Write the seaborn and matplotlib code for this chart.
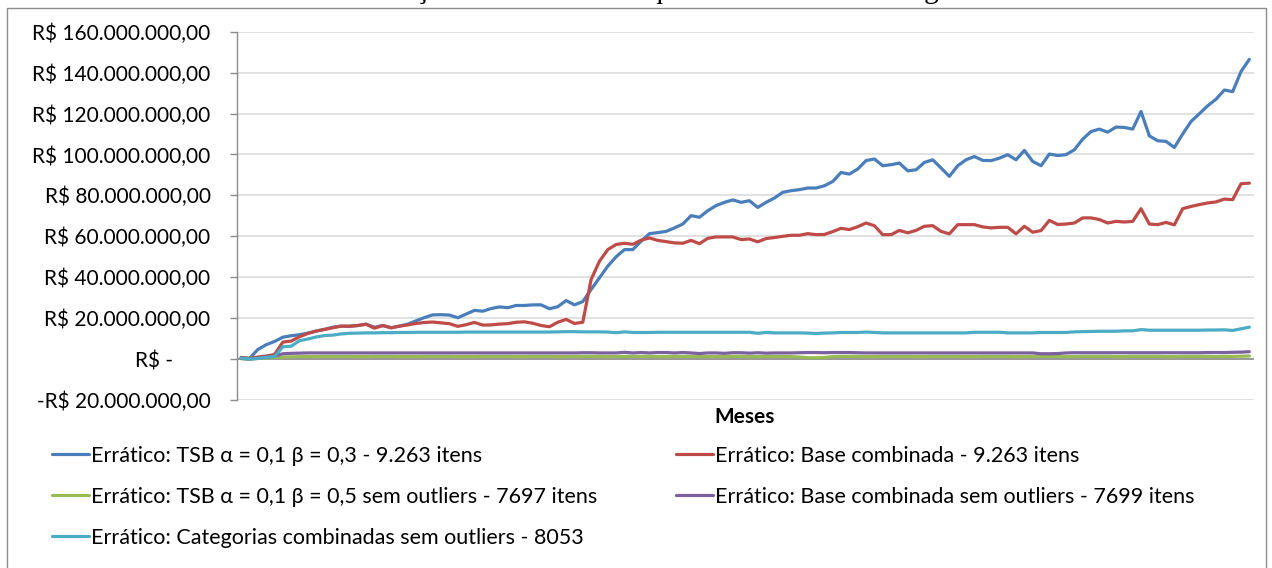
import numpy as np
import pandas as pd
import matplotlib
matplotlib.use("Agg")
import matplotlib.pyplot as plt
from matplotlib.lines import Line2D
from matplotlib.patches import Rectangle
from matplotlib.ticker import FixedLocator, FuncFormatter
import seaborn as sns

# ---- data (values in millions of R$) ----
tsb_03 = [
    0.8, 0.3, 4.7, 7.0, 8.6, 10.7, 11.4, 11.9, 12.7, 13.7,
    14.5, 15.6, 16.1, 16.1, 16.4, 17.1, 15.5, 16.4, 15.3, 16.1,
    17.1, 18.7, 20.3, 21.6, 21.7, 21.5, 20.2, 22.0, 23.8, 23.4,
    24.7, 25.5, 25.1, 26.2, 26.2, 26.5, 26.5, 24.6, 25.6, 28.6,
    26.5, 28.1, 34.0, 39.7, 45.4, 50.0, 53.5, 53.5, 57.6, 61.3,
    61.8, 62.4, 64.1, 66.0, 70.1, 69.3, 72.5, 75.0, 76.6, 77.8,
    76.6, 77.4, 74.1, 76.6, 78.7, 81.5, 82.3, 82.8, 83.6, 83.6,
    84.7, 86.8, 91.2, 90.4, 92.9, 97.0, 97.8, 94.5, 95.0, 95.8,
    92.0, 92.5, 96.1, 97.4, 93.4, 89.3, 94.5, 97.4, 99.0, 97.1,
    97.0, 98.2, 99.9, 97.4, 102.0, 96.6, 94.5, 100.2, 99.5, 99.9,
    102.3, 107.5, 111.2, 112.4, 110.9, 113.4, 113.2, 112.4, 121.0, 109.1,
    106.7, 106.4, 103.4, 110.0, 116.1, 119.9, 123.8, 127.0, 131.5, 130.7,
    140.5, 146.5,
]
base_comb = [
    0.8, 0.3, 1.0, 1.5, 2.2, 8.3, 8.8, 10.9, 12.5, 13.7,
    14.5, 15.3, 16.1, 16.0, 16.4, 17.0, 15.1, 16.4, 15.3, 16.1,
    16.7, 17.4, 17.9, 18.1, 17.7, 17.3, 16.0, 16.8, 17.9, 16.6,
    16.7, 17.1, 17.3, 18.0, 18.2, 17.5, 16.4, 15.8, 18.0, 19.4,
    17.4, 18.0, 38.9, 47.8, 53.5, 56.0, 56.6, 56.1, 58.1, 59.2,
    58.0, 57.4, 56.8, 56.6, 58.0, 56.4, 59.0, 59.7, 59.7, 59.7,
    58.4, 58.7, 57.3, 58.9, 59.4, 60.0, 60.5, 60.5, 61.3, 60.8,
    60.9, 62.3, 63.9, 63.3, 64.7, 66.5, 65.2, 60.8, 60.8, 62.9,
    61.7, 62.9, 64.9, 65.2, 62.4, 61.2, 65.7, 65.7, 65.7, 64.6,
    64.1, 64.4, 64.4, 61.2, 64.9, 62.0, 62.8, 67.8, 65.8, 66.0,
    66.5, 69.0, 69.0, 68.2, 66.5, 67.3, 67.0, 67.3, 73.5, 66.0,
    65.7, 66.8, 65.6, 73.5, 74.6, 75.5, 76.3, 76.8, 78.2, 77.9,
    85.7, 86.0,
]
tsb_05_sem = [
    0.2, 0.0, 0.3, 0.5, 0.7, 1.0, 1.1, 1.2, 1.2, 1.2,
    1.3, 1.3, 1.3, 1.3, 1.2, 1.2, 1.3, 1.3, 1.3, 1.2,
    1.2, 1.2, 1.3, 1.3, 1.3, 1.3, 1.2, 1.2, 1.2, 1.3,
    1.3, 1.3, 1.3, 1.2, 1.2, 1.3, 1.3, 1.3, 1.2, 1.2,
    1.3, 1.3, 1.3, 1.3, 1.2, 1.2, 1.3, 1.3, 1.3, 1.3,
    1.2, 1.2, 1.3, 1.3, 1.3, 1.3, 1.2, 1.2, 1.3, 1.3,
    1.3, 1.2, 1.2, 1.3, 1.3, 1.3, 1.2, 1.0, 0.7, 0.6,
    0.8, 1.2, 1.3, 1.3, 1.3, 1.2, 1.2, 1.3, 1.3, 1.3,
    1.3, 1.2, 1.2, 1.3, 1.3, 1.3, 1.3, 1.2, 1.2, 1.3,
    1.3, 1.3, 1.3, 1.2, 1.2, 1.3, 1.3, 1.3, 1.3, 1.2,
    1.2, 1.3, 1.3, 1.3, 1.3, 1.2, 1.2, 1.3, 1.3, 1.3,
    1.3, 1.2, 1.2, 1.3, 1.3, 1.3, 1.3, 1.2, 1.3, 1.3,
    1.4, 1.5,
]
base_comb_sem = [
    0.3, 0.0, 0.5, 1.0, 1.5, 2.6, 2.8, 2.9, 3.0, 3.0,
    3.0, 3.0, 3.0, 3.0, 3.0, 3.0, 3.0, 3.0, 3.0, 3.0,
    3.0, 3.0, 3.0, 3.0, 3.0, 3.0, 3.0, 3.0, 3.0, 3.0,
    3.0, 3.0, 3.0, 3.0, 3.0, 3.0, 3.0, 3.0, 3.0, 3.0,
    3.0, 3.1, 3.1, 3.0, 3.0, 3.0, 3.3, 3.0, 3.2, 3.0,
    3.2, 3.2, 3.0, 3.2, 3.0, 2.7, 3.0, 3.0, 2.8, 3.1,
    3.1, 2.9, 3.1, 2.9, 3.0, 3.0, 3.0, 3.1, 3.2, 3.2,
    3.1, 3.2, 3.2, 3.2, 3.1, 3.0, 3.0, 3.0, 3.0, 3.0,
    3.0, 3.0, 3.0, 3.0, 3.0, 3.0, 3.0, 3.0, 3.0, 3.0,
    3.0, 3.0, 3.0, 3.0, 3.0, 3.0, 2.6, 2.6, 2.7, 3.0,
    3.1, 3.1, 3.1, 3.1, 3.1, 3.1, 3.1, 3.1, 3.1, 3.1,
    3.1, 3.1, 3.1, 3.1, 3.1, 3.1, 3.2, 3.2, 3.2, 3.3,
    3.4, 3.6,
]
cat_comb_sem = [
    0.5, 0.0, 0.3, 0.8, 1.2, 6.0, 6.3, 9.0, 9.8, 10.8,
    11.5, 11.7, 12.3, 12.6, 12.7, 12.8, 12.8, 12.9, 12.9, 13.0,
    13.0, 13.1, 13.1, 13.1, 13.1, 13.1, 13.1, 13.2, 13.2, 13.2,
    13.2, 13.2, 13.2, 13.2, 13.2, 13.2, 13.2, 13.2, 13.3, 13.4,
    13.4, 13.3, 13.3, 13.3, 13.2, 12.9, 13.3, 13.0, 13.0, 13.0,
    13.1, 13.1, 13.1, 13.1, 13.1, 13.1, 13.1, 13.1, 13.1, 13.1,
    13.1, 13.1, 12.6, 13.0, 12.8, 12.8, 12.8, 12.8, 12.7, 12.5,
    12.7, 12.8, 13.0, 13.0, 13.0, 13.2, 13.0, 12.8, 12.8, 12.8,
    12.8, 12.8, 12.8, 12.8, 12.8, 12.8, 12.8, 12.8, 13.1, 13.1,
    13.1, 13.1, 12.8, 12.8, 12.8, 12.8, 13.0, 13.0, 13.0, 13.0,
    13.3, 13.4, 13.5, 13.6, 13.6, 13.6, 13.8, 13.8, 14.4, 14.1,
    14.1, 14.1, 14.1, 14.1, 14.1, 14.1, 14.2, 14.2, 14.3, 14.0,
    14.8, 15.6,
]

series_labels = [
    "Errático: TSB α = 0,1 β = 0,3 - 9.263 itens",
    "Errático: Base combinada - 9.263 itens",
    "Errático: TSB α = 0,1 β = 0,5 sem outliers - 7697 itens",
    "Errático: Base combinada sem outliers - 7699 itens",
    "Errático: Categorias combinadas sem outliers - 8053",
]
series_values = [tsb_03, base_comb, tsb_05_sem, base_comb_sem, cat_comb_sem]
series_colors = ["#4A7EBB", "#BE4B48", "#98B954", "#7D60A0", "#4BACC6"]

y_ticks = [-20, 0, 20, 40, 60, 80, 100, 120, 140, 160]
title_text = "Gráfico 16 – Evolução do valor de estoque com o total da Categoria Errático"

months = np.arange(len(tsb_03))

# ---- style ----
sns.set_theme(style="white")
plt.rcParams["font.family"] = ["Lato", "DejaVu Sans"]
FS = 15
FS_LEG = 15.5

W, H = 1272, 568
fig = plt.figure(figsize=(W / 100, H / 100), dpi=100)
fig.patch.set_facecolor("white")

# chart frame and the caption line running above it
fig.patches.append(Rectangle((7 / W, -0.05), (1266 - 7) / W, 1.05 - 8.5 / H,
                             transform=fig.transFigure, fill=False,
                             edgecolor="#8C8C8C", lw=1.0, zorder=0))
fig.text(638 / W, 1 + 2.5 / H, title_text, ha="center", va="baseline",
         fontsize=21, family=["Liberation Serif", "DejaVu Serif"], color="black")

ax = fig.add_axes([237 / W, 1 - 400 / H, (1253.5 - 237) / W, (400 - 31.7) / H])
ax.set_facecolor("white")

frames = []
for lab, vals in zip(series_labels, series_values):
    frames.append(pd.DataFrame({"Mês": months, "Valor": np.asarray(vals) * 1e6, "Série": lab}))
df = pd.concat(frames, ignore_index=True)

sns.lineplot(data=df, x="Mês", y="Valor", hue="Série", hue_order=series_labels,
             palette=series_colors, linewidth=2.3, sort=False, legend=False, ax=ax)

ax.set_xlim(-0.5, len(months) - 0.5)
ax.set_ylim(y_ticks[0] * 1e6, y_ticks[-1] * 1e6)
ax.yaxis.set_major_locator(FixedLocator([v * 1e6 for v in y_ticks]))


def brl(v, pos=None):
    m = int(round(v))
    if m == 0:
        return "R$ -" + " " * 7
    s = f"{abs(m):,}".replace(",", ".") + ",00"
    return ("-R$ " if m < 0 else "R$ ") + s


ax.yaxis.set_major_formatter(FuncFormatter(brl))
ax.set_xticks([])
ax.grid(axis="y", color="#D9D9D9", lw=1.1)
ax.grid(axis="x", visible=False)
ax.axhline(0, color="#8C8C8C", lw=1.2, zorder=1.5)
for side in ["top", "right", "bottom"]:
    ax.spines[side].set_visible(False)
ax.spines["left"].set_color("#8C8C8C")
ax.spines["left"].set_linewidth(1.0)
ax.tick_params(axis="y", which="major", left=True, length=5, width=1.0,
               color="#8C8C8C", pad=14, labelsize=FS, labelcolor="black")
ax.set_xlabel("")
ax.set_ylabel("")

fig.text(745 / W, 1 - 417 / H, "Meses", ha="center", va="center",
         fontsize=FS, fontweight="bold", color="black")

# legend: two columns laid out row by row
handles = [Line2D([0], [0], color=c, lw=2.3) for c in series_colors]
left_idx = [0, 2, 4]
right_idx = [1, 3]
common = dict(loc="upper left", frameon=False, fontsize=FS_LEG, handlelength=1.7,
              handletextpad=0.1, labelspacing=0.97, borderpad=0, borderaxespad=0,
              labelcolor="black")
fig.legend([handles[i] for i in left_idx], [series_labels[i] for i in left_idx],
           bbox_to_anchor=(52 / W, 1 - 446 / H), **common)
fig.legend([handles[i] for i in right_idx], [series_labels[i] for i in right_idx],
           bbox_to_anchor=(676 / W, 1 - 446 / H), **common)

fig.savefig("out.png", dpi=100, facecolor="white")
